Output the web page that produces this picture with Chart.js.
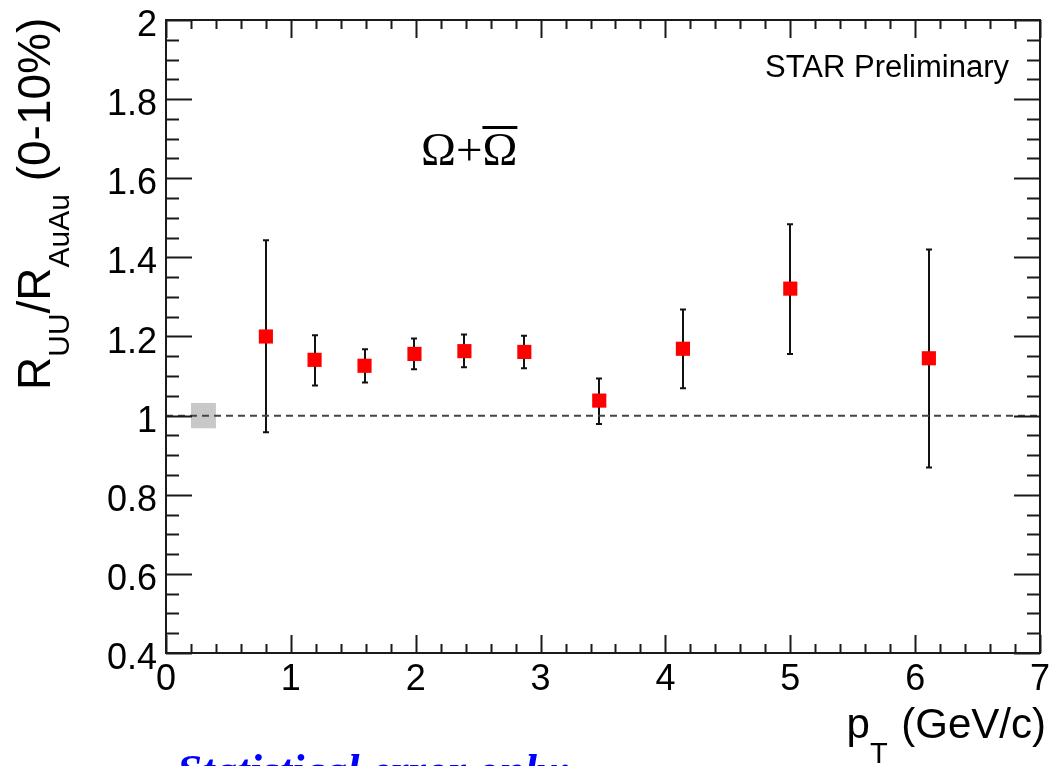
<!DOCTYPE html>
<html>
<head>
  <meta charset="utf-8">
  <title>Omega RUU/RAuAu</title>
  <script src="https://cdn.jsdelivr.net/npm/chart.js@4.4.0/dist/chart.umd.min.js"></script>
  <style>
    html, body { margin: 0; padding: 0; background: #fff; overflow: hidden; }
    .chart-box { position: relative; width: 1050px; height: 766px; }
  </style>
</head>
<body>
<div class="chart-box">
  <canvas id="myChart"></canvas>
</div>

<script>
// values
var ptX   = [0.80, 1.19, 1.59, 1.99, 2.39, 2.87, 3.47, 4.14, 5.00, 6.11];
var ptY   = [1.200, 1.141, 1.126, 1.156, 1.163, 1.161, 1.038, 1.169, 1.321, 1.145];
var errHi = [1.443, 1.203, 1.168, 1.195, 1.205, 1.202, 1.094, 1.268, 1.484, 1.420];
var errLo = [0.958, 1.076, 1.084, 1.117, 1.122, 1.120, 0.979, 1.069, 1.156, 0.869];

// normalisation uncertainty box at unity
var normBoxX = [0.2, 0.4];
var normBoxY = [0.968, 1.032];

var xTicks = [0, 1, 2, 3, 4, 5, 6, 7];
var xTickLabels = ['0', '1', '2', '3', '4', '5', '6', '7'];
var yTicks = [0.4, 0.6, 0.8, 1.0, 1.2, 1.4, 1.6, 1.8, 2.0];
var yTickLabels = ['0.4', '0.6', '0.8', '1', '1.2', '1.4', '1.6', '1.8', '2'];

var points = ptX.map(function(x, i) { return {x: x, y: ptY[i]}; });

var sans = '"Liberation Sans", Arial, Helvetica, sans-serif';
var serif = '"Liberation Serif", "Times New Roman", serif';

// ROOT style frame, inward ticks, labels and titles
var frameAxes = {
  id: 'frameAxes',
  beforeDatasetsDraw: function(chart) {
    var ctx = chart.ctx, xs = chart.scales.x, ys = chart.scales.y;
    ctx.save();
    // grey box at 1
    ctx.fillStyle = '#c8c8c8';
    var bx0 = xs.getPixelForValue(normBoxX[0]), bx1 = xs.getPixelForValue(normBoxX[1]);
    var by0 = ys.getPixelForValue(normBoxY[1]), by1 = ys.getPixelForValue(normBoxY[0]);
    ctx.fillRect(bx0, by0, bx1 - bx0, by1 - by0);
    ctx.restore();
  },
  afterDraw: function(chart) {
    var ctx = chart.ctx, xs = chart.scales.x, ys = chart.scales.y;
    var a = chart.chartArea;
    ctx.save();
    ctx.strokeStyle = '#1a1a1a';
    ctx.lineWidth = 2;
    ctx.strokeRect(a.left, a.top, a.right - a.left, a.bottom - a.top);

    ctx.beginPath();
    // x ticks: major every 1, minor every 0.2
    for (var i = 0; i <= 35; i++) {
      var v = i * 0.2;
      var px = Math.round(xs.getPixelForValue(v)) + 0.5;
      var len = (i % 5 === 0) ? 18 : 9;
      ctx.moveTo(px, a.bottom); ctx.lineTo(px, a.bottom - len);
      ctx.moveTo(px, a.top); ctx.lineTo(px, a.top + len);
    }
    // y ticks: major every 0.2, minor every 0.05
    for (var j = 0; j <= 32; j++) {
      var w = 0.4 + j * 0.05;
      var py = Math.round(ys.getPixelForValue(w)) + 0.5;
      var l2 = (j % 4 === 0) ? 26 : 13;
      ctx.moveTo(a.left, py); ctx.lineTo(a.left + l2, py);
      ctx.moveTo(a.right, py); ctx.lineTo(a.right - l2, py);
    }
    ctx.stroke();

    // tick labels
    ctx.fillStyle = '#000';
    ctx.font = '36px ' + sans;
    ctx.textBaseline = 'alphabetic';
    ctx.textAlign = 'center';
    xTicks.forEach(function(t, k) {
      ctx.fillText(xTickLabels[k], xs.getPixelForValue(t), a.bottom + 37);
    });
    ctx.textAlign = 'right';
    yTicks.forEach(function(t, k) {
      ctx.fillText(yTickLabels[k], a.left - 9, ys.getPixelForValue(t) + 16);
    });

    // x title: p_T (GeV/c)
    ctx.textAlign = 'left';
    ctx.font = '42px ' + sans;
    var rest = ' (GeV/c)';
    var restW = ctx.measureText(rest).width;
    var restX = 1046 - restW;
    ctx.fillText(rest, restX, 738);
    ctx.font = '29px ' + sans;
    var tW = ctx.measureText('T').width;
    ctx.fillText('T', restX - tW - 2, 763);
    ctx.font = '42px ' + sans;
    var pW = ctx.measureText('p').width;
    ctx.fillText('p', restX - tW - 2 - pW, 738);

    // y title: R_UU/R_AuAu (0-10%)
    ctx.save();
    ctx.translate(50, 390);
    ctx.rotate(-Math.PI / 2);
    var cx = 0;
    var parts = [['R', 0], ['UU', 1], ['/R', 0], ['AuAu', 1], [' (0-10%)', 0]];
    parts.forEach(function(p) {
      ctx.font = (p[1] ? '30px ' : '46px ') + sans;
      ctx.fillText(p[0], cx, p[1] ? 19 : 0);
      cx += ctx.measureText(p[0]).width;
    });
    ctx.restore();

    // STAR Preliminary
    ctx.font = '31px ' + sans;
    ctx.fillText('STAR Preliminary', 765, 77);

    // Omega + anti-Omega
    ctx.font = '47px ' + serif;
    var om = 'Ω+';
    ctx.fillText(om, 421, 165);
    var omW = ctx.measureText(om).width;
    ctx.fillText('Ω', 421 + omW, 165);
    var bW = ctx.measureText('Ω').width;
    ctx.fillRect(421 + omW, 126, bW, 3);

    // footnote, cut at the bottom edge
    ctx.fillStyle = '#0000ff';
    ctx.font = 'italic bold 45px ' + serif;
    ctx.fillText('Statistical error only:', 177, 785);
    ctx.restore();
  }
};

var errorBars = {
  id: 'errorBars',
  beforeDatasetsDraw: function(chart) {
    var ctx = chart.ctx, xs = chart.scales.x, ys = chart.scales.y;
    ctx.save();
    ctx.strokeStyle = '#111';
    ctx.lineWidth = 2;
    ctx.beginPath();
    ptX.forEach(function(x, i) {
      var px = Math.round(xs.getPixelForValue(x));
      var hi = ys.getPixelForValue(errHi[i]);
      var lo = ys.getPixelForValue(errLo[i]);
      ctx.moveTo(px, hi); ctx.lineTo(px, lo);
      ctx.moveTo(px - 3, hi); ctx.lineTo(px + 3, hi);
      ctx.moveTo(px - 3, lo); ctx.lineTo(px + 3, lo);
    });
    ctx.stroke();
    ctx.restore();
  }
};

var ctx = document.getElementById('myChart').getContext('2d');
var myChart = new Chart(ctx, {
  type: 'scatter',
  data: {
    datasets: [{
      label: 'unity',
      type: 'line',
      data: [{x: 0, y: 1}, {x: 7, y: 1}],
      borderColor: '#444',
      borderWidth: 2,
      borderDash: [7, 5],
      pointRadius: 0,
      fill: false
    }, {
      label: 'Omega',
      data: points,
      pointStyle: 'rect',
      pointRadius: 10,
      pointHoverRadius: 10,
      backgroundColor: 'rgb(255,0,0)',
      borderWidth: 0
    }]
  },
  options: {
    responsive: true,
    maintainAspectRatio: false,
    animation: false,
    events: [],
    layout: { padding: { left: 166, right: 5, top: 20, bottom: 113 } },
    plugins: { legend: { display: false }, tooltip: { enabled: false } },
    scales: {
      x: { type: 'linear', min: 0, max: 7, display: false },
      y: { type: 'linear', min: 0.4, max: 2, display: false }
    }
  },
  plugins: [frameAxes, errorBars]
});
</script>
</body>
</html>
